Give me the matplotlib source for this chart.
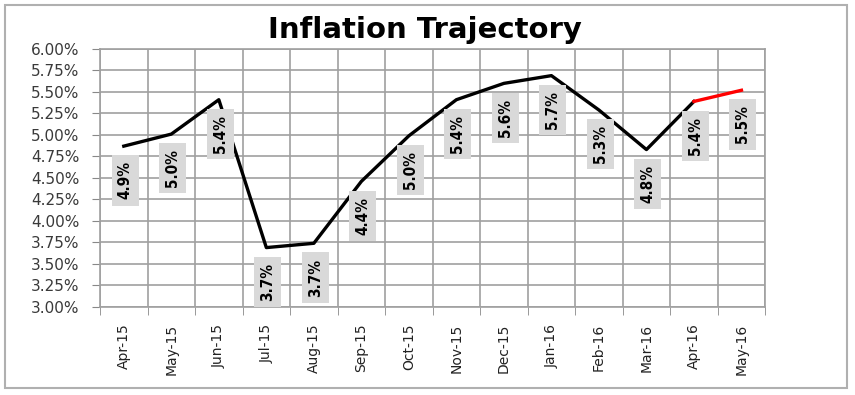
import numpy as np
import matplotlib.pyplot as plt
from matplotlib.patches import Rectangle

# dados
months = ['Apr-15', 'May-15', 'Jun-15', 'Jul-15', 'Aug-15', 'Sep-15', 'Oct-15',
          'Nov-15', 'Dec-15', 'Jan-16', 'Feb-16', 'Mar-16', 'Apr-16', 'May-16']
inflation = [4.87, 5.01, 5.41, 3.69, 3.74, 4.46, 4.99,
             5.41, 5.60, 5.69, 5.29, 4.83, 5.39, 5.52]
labels = ['4.9%', '5.0%', '5.4%', '3.7%', '3.7%', '4.4%', '5.0%',
          '5.4%', '5.6%', '5.7%', '5.3%', '4.8%', '5.4%', '5.5%']
yticks = [3.00, 3.25, 3.50, 3.75, 4.00, 4.25, 4.50, 4.75, 5.00, 5.25, 5.50, 5.75, 6.00]

fig = plt.figure(figsize=(8.55, 3.95), dpi=100)
ax = fig.add_axes([0.117, 0.223, 0.778, 0.653])

x = np.arange(len(months))
ax.plot(x[:-1], inflation[:-1], color='black', lw=2.4, zorder=3)
ax.plot(x[-2:], inflation[-2:], color='red', lw=2.4, zorder=3)

for xi, yi, lab in zip(x, inflation, labels):
    ax.annotate(lab, (xi, yi), xytext=(1, -11), textcoords='offset points',
                rotation=90, ha='center', va='top', fontsize=11, fontweight='bold',
                family='DejaVu Sans', fontstretch='condensed',
                bbox=dict(boxstyle='square,pad=0.4', fc='#d9d9d9', ec='none'), zorder=4)

ax.set_xlim(-0.5, len(months) - 0.5)
ax.set_ylim(3.0, 6.0)
ax.set_yticks(yticks)
ax.set_yticklabels(['%.2f%%' % v for v in yticks], fontsize=11, color='#3a3a3a')
ax.set_xticks(x)
ax.set_xticklabels(months, rotation=90, fontsize=10, color='#222222')
ax.set_xticks(np.arange(-0.5, len(months)), minor=True)
ax.tick_params(axis='x', which='major', length=0, pad=12)
ax.tick_params(axis='x', which='minor', length=6, color='#888888')
ax.tick_params(axis='y', length=6, color='#888888', pad=9)
ax.grid(True, axis='y', color='#a0a0a0', lw=1.2)
ax.grid(True, axis='x', which='minor', color='#a0a0a0', lw=1.2)
for s in ax.spines.values():
    s.set_color('#a0a0a0')
    s.set_linewidth(1.2)

fig.text(0.497, 0.925, 'Inflation Trajectory', ha='center', va='center',
         fontsize=21, fontweight='bold')

# moldura
fig.patches.append(Rectangle((0.006, 0.018), 0.985, 0.97, transform=fig.transFigure,
                             fill=False, ec='#b0b0b0', lw=1.5))

fig.savefig('out.png', dpi=100)
